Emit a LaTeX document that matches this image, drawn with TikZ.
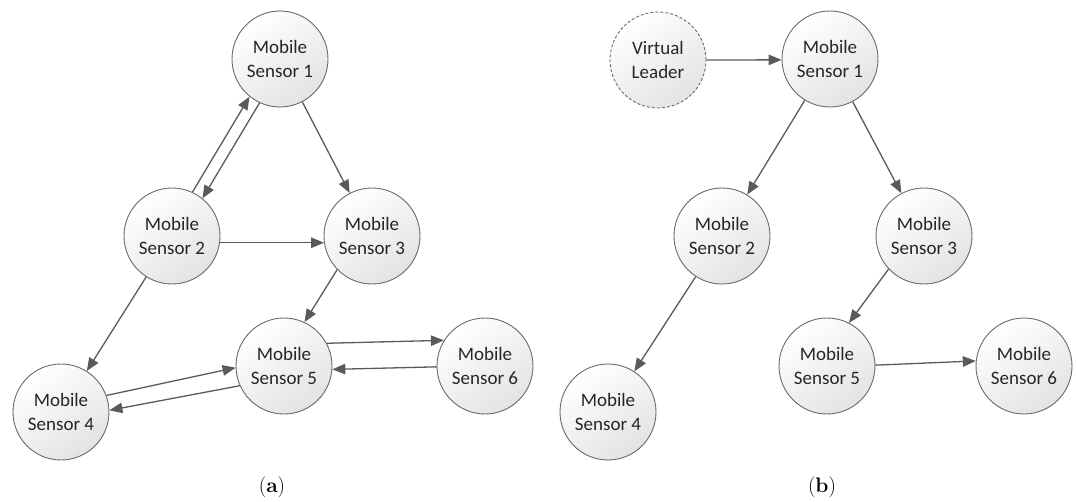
\documentclass[tikz,border=0pt]{standalone}
\usepackage{fontspec}
\setsansfont{Carlito}
\usetikzlibrary{arrows.meta}
\definecolor{edgegray}{HTML}{5A5A5A}
\definecolor{ringgray}{HTML}{6A6A6A}
\tikzset{
  sensor/.style={circle, draw=ringgray, line width=0.9pt, minimum size=96pt, inner sep=0pt,
    top color=white, bottom color=black!11, shading angle=35,
    align=center, font=\sffamily\fontsize{19}{23.5}\selectfont, text=black!85},
  leader/.style={sensor, dashed, dash pattern=on 3pt off 2pt},
  link/.style={draw=edgegray, line width=1.3pt, -{Triangle[length=13pt,width=10.5pt]}},
  caption/.style={font=\rmfamily\fontsize{21}{24}\selectfont}
}
\begin{document}
\begin{tikzpicture}[x=1pt,y=-1pt]
\useasboundingbox (0,0) rectangle (1076,501);
% (a)
\node[sensor] (a1) at (280,59) {Mobile\\Sensor 1};
\node[sensor] (a2) at (172,236) {Mobile\\Sensor 2};
\node[sensor] (a3) at (372,236) {Mobile\\Sensor 3};
\node[sensor] (a4) at (61,412) {Mobile\\Sensor 4};
\node[sensor] (a5) at (284,366) {Mobile\\Sensor 5};
\node[sensor] (a6) at (485,366) {Mobile\\Sensor 6};
\draw[link] (a2.65.75) -- (a1.231.75);
\draw[link] (a1.245.75) -- (a2.51.75);
\draw[link] (a1) -- (a3);
\draw[link] (a2.-8) -- (a3.188);
\draw[link] (a3.224) -- (a5.65);
\draw[link] (a2) -- (a4);
\draw[link] (a4.20.5) -- (a5.182);
\draw[link] (a5.204) -- (a4.2.5);
\draw[link] (a5.28) -- (a6.148);
\draw[link] (a6.181) -- (a5.-4);
\node[caption] (capa) at (272,487) {(\textbf{a})};
% (b)
\node[leader] (vl) at (658,60) {Virtual\\Leader};
\node[sensor] (b1) at (830,59) {Mobile\\Sensor 1};
\node[sensor] (b2) at (722,236) {Mobile\\Sensor 2};
\node[sensor] (b3) at (924,236) {Mobile\\Sensor 3};
\node[sensor] (b4) at (608,412) {Mobile\\Sensor 4};
\node[sensor] (b5) at (827,366) {Mobile\\Sensor 5};
\node[sensor] (b6) at (1024,366) {Mobile\\Sensor 6};
\draw[link] (vl.0) -- (b1.181);
\draw[link] (b1) -- (b2);
\draw[link] (b1) -- (b3);
\draw[link] (b2) -- (b4);
\draw[link] (b3.223) -- (b5.63);
\draw[link] (b5.1) -- (b6.174);
\node[caption] (capb) at (822,487) {(\textbf{b})};
\end{tikzpicture}
\end{document}
